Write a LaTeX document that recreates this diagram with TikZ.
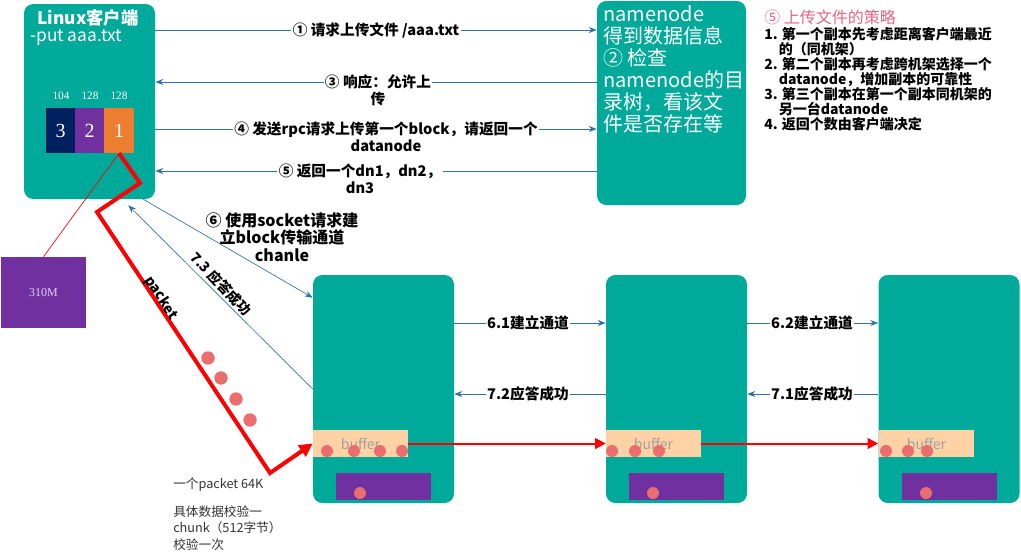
\documentclass[tikz,border=0pt]{standalone}
\usepackage{fontspec}
\setmainfont{Noto Sans CJK SC}
\newfontfamily\numfont{Liberation Serif}
\usetikzlibrary{arrows.meta}
\definecolor{teal1}{RGB}{0,170,155}
\definecolor{arrblue}{RGB}{49,112,165}
\definecolor{navy1}{RGB}{0,32,96}
\definecolor{purp1}{RGB}{112,48,160}
\definecolor{orng1}{RGB}{237,125,49}
\definecolor{peach1}{RGB}{255,210,165}
\definecolor{dot1}{RGB}{235,110,110}
\definecolor{pink1}{RGB}{232,100,130}
\definecolor{buftxt}{RGB}{160,160,160}
\definecolor{lav1}{RGB}{225,210,240}
\definecolor{note1}{RGB}{50,50,50}
\begin{document}
\begin{tikzpicture}[x=0.75pt,y=-0.75pt,
  box/.style={fill=teal1, rounded corners=7pt, inner sep=0pt},
  blk/.style={minimum width=22pt, minimum height=33.75pt, inner sep=0pt, text=white, font=\numfont\fontsize{15}{17}\selectfont},
  sizelbl/.style={text=white, inner sep=0pt, font=\numfont\fontsize{8.5}{10}\selectfont},
  arr/.style={draw=arrblue, line width=0.75pt, -{Stealth[length=6pt,width=4.5pt]}},
  arrthin/.style={draw=arrblue, line width=0.5pt, -{Stealth[length=6pt,width=4.5pt]}},
  lbl/.style={font=\fontsize{11}{13}\selectfont\bfseries, fill=white, inner sep=1pt, align=center},
  buf/.style={fill=peach1, minimum width=71.25pt, minimum height=20.25pt, inner sep=0pt, text=buftxt, font=\fontsize{10.5}{12}\selectfont},
  store/.style={fill=purp1, minimum width=71.25pt, minimum height=20.25pt, inner sep=0pt},
  dn/.style={box, minimum width=105.75pt, minimum height=171pt},
  redarr/.style={draw=red, line width=1.5pt, -{Triangle[length=8pt,width=8pt]}}
]
\useasboundingbox (0,0) rectangle (1021,554);

% ---------- client ----------
\node[box, minimum width=98.25pt, minimum height=146.25pt] (client) at (89.5,101.5) {};
\node[text=white, font=\fontsize{13}{15}\selectfont\bfseries, inner sep=0pt] (ctitle) at (88,18) {Linux客户端};
\node[anchor=west, text=white, font=\fontsize{13}{15}\selectfont, inner sep=0pt] (cput) at (30,37) {-put aaa.txt};
\node[sizelbl] (s3) at (61,96) {104};
\node[sizelbl] (s2) at (90,96) {128};
\node[sizelbl] (s1) at (119,96) {128};
\node[blk, fill=navy1] (b3) at (60.5,130.5) {3};
\node[blk, fill=purp1] (b2) at (89.5,130.5) {2};
\node[blk, fill=orng1] (b1) at (119,130.5) {1};

% ---------- namenode ----------
\node[box, minimum width=111.75pt, minimum height=153pt] (nn) at (671.5,103) {};
\node[anchor=north west, text=white, align=left, font=\fontsize{15}{16.5}\selectfont, inner sep=0pt] (nntext) at (603,5)
  {namenode\\得到数据信息\\② 检查\\namenode的目\\录树，看该文\\件是否存在等};

% ---------- strategy ----------
\node[anchor=north west, text=pink1, font=\fontsize{12}{14}\selectfont, inner sep=0pt] (sttitle) at (764,10) {⑤ 上传文件的策略};
\node[anchor=north west, align=left, font=\fontsize{10.5}{11.25}\selectfont\bfseries, inner sep=0pt] (stlist) at (764,27)
  {1. 第一个副本先考虑距离客户端最近\\\hspace*{1.05em}的（同机架）\\2. 第二个副本再考虑跨机架选择一个\\\hspace*{1.05em}datanode，增加副本的可靠性\\3. 第三个副本在第一个副本同机架的\\\hspace*{1.05em}另一台datanode\\4. 返回个数由客户端决定};

% ---------- client <-> namenode ----------
\coordinate (y1) at (0,30);
\coordinate (y3) at (0,82);
\coordinate (y4) at (0,129);
\coordinate (y5) at (0,171);
\draw[arr] (client.east |- y1) -- (nn.west |- y1);
\node[lbl] (l1) at (376,30) {① 请求上传文件 /aaa.txt};
\draw[arr] (nn.west |- y3) -- (client.east |- y3);
\node[lbl, anchor=north] (l3) at (378,73) {③ 响应：允许上\\传};
\draw[arr] (client.east |- y4) -- (nn.west |- y4);
\node[lbl, anchor=north] (l4) at (386,120) {④ 发送rpc请求上传第一个block，请返回一个\\datanode};
\draw[arr] (nn.west |- y5) -- (client.east |- y5);
\node[lbl, anchor=north] (l5) at (360,162) {⑤ 返回一个dn1，dn2，\\dn3};

% ---------- datanodes ----------
\node[dn] (dn1) at (383.5,389) {};
\node[dn] (dn2) at (676.5,389) {};
\node[dn] (dn3) at (949,389) {};
\node[buf] (buf1) at (360.5,443.5) {buffer};
\node[buf] (buf2) at (653.5,443.5) {buffer};
\node[buf] (buf3) at (926.5,443.5) {buffer};
\node[store] (st1) at (383.5,486.5) {};
\node[store] (st2) at (676.5,486.5) {};
\node[store] (st3) at (949.5,486.5) {};

\foreach \x in {327,354,380,402,612,635,659,886,908,927}
  \fill[dot1] (\x,451) circle (4.5pt);
\foreach \x in {360,653,926}
  \fill[dot1] (\x,493) circle (4.5pt);

% ---------- datanode arrows ----------
\coordinate (y61) at (0,323);
\coordinate (y72) at (0,394);
\draw[arr] (dn1.east |- y61) -- (dn2.west |- y61);
\node[lbl] (l61) at (528,323) {6.1建立通道};
\draw[arr] (dn2.west |- y72) -- (dn1.east |- y72);
\node[lbl] (l72) at (528,394) {7.2应答成功};
\draw[arr] (dn2.east |- y61) -- (dn3.west |- y61);
\node[lbl] (l62) at (812,323) {6.2建立通道};
\draw[arr] (dn3.west |- y72) -- (dn2.east |- y72);
\node[lbl] (l71) at (812,394) {7.1应答成功};

\draw[redarr] (buf1.east) -- (dn2.west |- buf1.east);
\draw[redarr] (buf2.east) -- (dn3.west |- buf2.east);

% ---------- 310M ----------
\node[fill=purp1, minimum width=63.75pt, minimum height=53.25pt, inner sep=0pt, text=lav1, font=\numfont\fontsize{9}{11}\selectfont] (m310) at (43.5,292.5) {310M};
\draw[red, line width=0.5pt] (b1.south) -- (m310.north);

% ---------- packet path ----------
\coordinate (p1) at (140,183);
\coordinate (p2) at (97,212);
\coordinate (p3) at (270,473);
\draw[red, line width=3pt, line join=miter, -{Triangle[length=10pt,width=10pt]}] (b1.south) -- (p1) -- (p2) -- (p3) -- (buf1.west);
\foreach \x/\y in {208/358,221/378,236/399,250/420}
  \fill[dot1] (\x,\y) circle (5pt);
\node[rotate=-56.5, font=\fontsize{10.5}{12}\selectfont\bfseries, inner sep=0pt] (pk) at (161,298) {packet};

% ---------- socket / ack ----------
\draw[arrthin] ([xshift=-9pt]client.south east) -- ([yshift=-17.25pt]dn1.north west);
\node[font=\fontsize{12}{13}\selectfont\bfseries, align=center, inner sep=0pt] (l6) at (282,237) {⑥ 使用socket请求建\\立block传输通道\\chanle};
\draw[arrthin] (dn1.west) -- ([xshift=-20.25pt,yshift=-4.5pt]client.south east);
\node[rotate=-46.5, font=\fontsize{10.5}{12}\selectfont\bfseries, inner sep=0pt] (l73) at (221,284) {7.3 应答成功};

% ---------- notes ----------
\node[anchor=north west, text=note1, font=\fontsize{9.5}{12.4}\selectfont, inner sep=0pt] (n1) at (173,478) {一个packet 64K};
\node[anchor=north west, align=left, text=note1, font=\fontsize{9.5}{12.4}\selectfont, inner sep=0pt] (n2) at (173,505) {具体数据校验一\\chunk（512字节）\\校验一次};
\end{tikzpicture}
\end{document}
